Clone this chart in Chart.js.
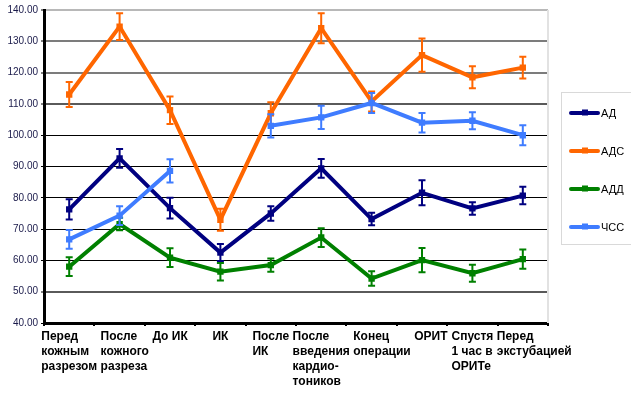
<!DOCTYPE html>
<html>
<head>
<meta charset="utf-8">
<title>Гемодинамика</title>
<script src="https://cdn.jsdelivr.net/npm/chart.js@4.4.1/dist/chart.umd.min.js"></script>
<style>
  html, body { margin: 0; padding: 0; background: #fff; }
  #wrap { position: relative; width: 631px; height: 399px; }
</style>
</head>
<body>
<div id="wrap"><canvas id="chart"></canvas></div>
<script>
// categories (x axis), one array of lines per label
const categories = [
    ['Перед', 'кожным', 'разрезом'],
    ['После', 'кожного', 'разреза'],
    ['До ИК'],
    ['ИК'],
    ['После', 'ИК'],
    ['После', 'введения', 'кардио-', 'тоников'],
    ['Конец', 'операции'],
    ['ОРИТ'],
    ['Спустя', '1 час в', 'ОРИТе'],
    ['Перед', 'экстубацией']
];

// series means
const adValues  = [76.3, 92.6, 76.7, 62.5, 75.0, 89.4, 73.2, 81.6, 76.6, 80.7];
const adsValues = [113.0, 134.7, 108.0, 73.0, 107.0, 134.2, 110.8, 125.6, 118.5, 121.6];
const addValues = [58.0, 71.6, 60.9, 56.4, 58.5, 67.3, 54.2, 60.1, 55.9, 60.4];
const hrValues  = [66.7, 74.3, 88.6, null, 103.0, 105.7, 110.3, 104.0, 104.6, 100.0];

// error bar half-widths
const adErrors  = [3.2, 3.0, 3.3, 2.7, 2.3, 3.0, 2.0, 4.0, 2.0, 2.8];
const adsErrors = [4.0, 4.3, 4.4, 3.5, 3.5, 4.8, 3.2, 5.3, 3.5, 3.5];
const addErrors = [3.0, 2.0, 3.0, 2.8, 2.1, 3.0, 2.3, 3.9, 2.7, 3.1];
const hrErrors  = [3.0, 3.0, 3.7, null, 3.7, 3.7, 3.2, 3.1, 2.7, 3.2];

// y axis ticks
const yMin = 40;
const yMax = 140;
const yStep = 10;

const FONT = '"Liberation Sans", Arial, sans-serif';

function makeSeries(label, data, errors, color, order) {
    return {
        label: label,
        data: data,
        errors: errors,
        borderColor: color,
        backgroundColor: color,
        borderWidth: 4,
        pointStyle: 'rect',
        pointRadius: 4.5,
        pointBorderWidth: 0,
        tension: 0,
        spanGaps: false,
        order: order
    };
}

// error bars, drawn right after each dataset
const errorBars = {
    id: 'errorBars',
    afterDatasetDraw(chart, args) {
        const ds = chart.data.datasets[args.index];
        const yScale = chart.scales.y;
        const ctx = chart.ctx;
        ctx.save();
        ctx.strokeStyle = ds.borderColor;
        ctx.lineWidth = 2;
        args.meta.data.forEach(function(pt, i) {
            const v = ds.data[i];
            const e = ds.errors[i];
            if (v === null || e === null) return;
            const yTop = yScale.getPixelForValue(v + e);
            const yBot = yScale.getPixelForValue(v - e);
            ctx.beginPath();
            ctx.moveTo(pt.x, yTop);
            ctx.lineTo(pt.x, yBot);
            ctx.moveTo(pt.x - 3.5, yTop);
            ctx.lineTo(pt.x + 3.5, yTop);
            ctx.moveTo(pt.x - 3.5, yBot);
            ctx.lineTo(pt.x + 3.5, yBot);
            ctx.stroke();
        });
        ctx.restore();
    }
};

// right border of plot, x labels and the legend box
const decorations = {
    id: 'decorations',
    beforeDatasetsDraw(chart) {
        const ctx = chart.ctx;
        const a = chart.chartArea;
        ctx.save();
        ctx.strokeStyle = '#e2e2e2';
        ctx.lineWidth = 2;
        ctx.beginPath();
        ctx.moveTo(a.right, a.top);
        ctx.lineTo(a.right, a.bottom);
        ctx.stroke();
        ctx.restore();
    },
    afterDraw(chart) {
        const ctx = chart.ctx;
        const a = chart.chartArea;
        const xScale = chart.scales.x;

        // category labels: block centred on the category, lines left aligned,
        // pushed right when it would run into the previous one
        ctx.save();
        ctx.font = 'bold 12px ' + FONT;
        ctx.fillStyle = '#000';
        ctx.textBaseline = 'middle';
        ctx.textAlign = 'left';
        let prevEnd = -Infinity;
        chart.data.labels.forEach(function(lines, i) {
            const cx = xScale.getPixelForValue(i);
            let w = 0;
            lines.forEach(function(l) { w = Math.max(w, ctx.measureText(l).width); });
            const x0 = Math.max(cx - w / 2, prevEnd + 3.5);
            prevEnd = x0 + w;
            lines.forEach(function(l, j) {
                ctx.fillText(l, x0, a.bottom + 14 + j * 15);
            });
        });
        ctx.restore();

        // legend
        ctx.save();
        ctx.strokeStyle = '#d9d9d9';
        ctx.lineWidth = 1;
        ctx.strokeRect(561.5, 92.5, 100, 152);
        ctx.font = '11px ' + FONT;
        ctx.textBaseline = 'middle';
        ctx.fillStyle = '#000';
        chart.data.datasets.forEach(function(ds, i) {
            const y = 113 + i * 38;
            ctx.strokeStyle = ds.borderColor;
            ctx.lineWidth = 4;
            ctx.lineCap = 'round';
            ctx.beginPath();
            ctx.moveTo(571, y);
            ctx.lineTo(598, y);
            ctx.stroke();
            ctx.fillStyle = ds.borderColor;
            ctx.fillRect(582, y - 3.5, 6, 6);
            ctx.fillStyle = '#000';
            ctx.fillText(ds.label, 601, y + 1);
        });
        ctx.restore();
    }
};

function gridColor(ctx) {
    const v = ctx.tick ? ctx.tick.value : null;
    if (v === 140) return '#b8b8b8';
    if (v === 130 || v === 120) return '#7c7c7c';
    if (v === 110) return '#5a5a5a';
    if (v === 50) return '#5a5a5a';
    return '#000';
}

function gridWidth(ctx) {
    const v = ctx.tick ? ctx.tick.value : null;
    if (v === 140 || v === 130 || v === 120 || v === 110 || v === 50) return 2;
    return 1;
}

new Chart(document.getElementById('chart'), {
    type: 'line',
    data: {
        labels: categories,
        datasets: [
            makeSeries('АД', adValues, adErrors, '#000080', 3),
            makeSeries('АДС', adsValues, adsErrors, '#ff6600', 2),
            makeSeries('АДД', addValues, addErrors, '#008000', 1),
            makeSeries('ЧСС', hrValues, hrErrors, '#3f7cff', 0)
        ]
    },
    options: {
        responsive: true,
        maintainAspectRatio: false,
        animation: false,
        devicePixelRatio: 1,
        layout: { padding: { top: 10, right: 83, bottom: 0, left: 0 } },
        plugins: {
            legend: { display: false },
            tooltip: { enabled: false }
        },
        scales: {
            x: {
                type: 'category',
                offset: true,
                grid: {
                    offset: true,
                    drawOnChartArea: false,
                    drawTicks: true,
                    tickLength: 3,
                    color: '#000',
                    lineWidth: 2
                },
                border: { display: true, color: '#000', width: 3 },
                ticks: { display: false },
                afterFit(scale) { scale.height = 76; }
            },
            y: {
                min: yMin,
                max: yMax,
                grid: {
                    color: gridColor,
                    lineWidth: gridWidth,
                    tickLength: 3,
                    tickColor: '#000',
                    tickWidth: 1
                },
                border: { display: true, color: '#000', width: 3 },
                ticks: {
                    stepSize: yStep,
                    padding: 3,
                    color: '#1a1a4a',
                    font: { family: FONT, size: 10 },
                    callback: function(v) { return v.toFixed(2); }
                },
                afterFit(scale) { scale.width = 44; }
            }
        }
    },
    plugins: [errorBars, decorations]
});
</script>
</body>
</html>
